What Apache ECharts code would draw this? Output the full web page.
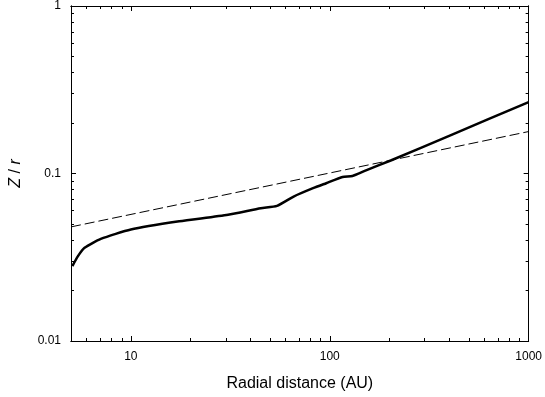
<!DOCTYPE html>
<html>
<head>
<meta charset="utf-8">
<script src="https://cdn.jsdelivr.net/npm/echarts@6/dist/echarts.min.js"></script>
<style>
  html, body { margin: 0; padding: 0; background: #fff; }
  #chart { width: 545px; height: 397px; }
</style>
</head>
<body>
<div id="chart"></div>
<script>
// solid curve: radial distance (AU) vs Z/r
const radius = [5.08, 5.42, 5.85, 7.06, 10, 17.5, 30.8, 45, 54.3, 65.8, 82.4, 96, 116, 130, 151, 204, 404, 1000];
const ratio = [0.028, 0.0321, 0.036, 0.0407, 0.0463, 0.0518, 0.0567, 0.0621, 0.0641, 0.0728, 0.0817, 0.0875, 0.0952, 0.0967, 0.104, 0.120, 0.169, 0.267];

// dashed reference line
const refRadius = [5, 1000];
const refRatio = [0.048, 0.178];

const xMajor = [10, 100, 1000];
const xMinor = [6, 7, 8, 9, 20, 30, 40, 50, 60, 70, 80, 90, 200, 300, 400, 500, 600, 700, 800, 900];
const yMajor = [0.01, 0.1, 1];
const yMinor = [0.02, 0.03, 0.04, 0.05, 0.06, 0.07, 0.08, 0.09, 0.2, 0.3, 0.4, 0.5, 0.6, 0.7, 0.8, 0.9];

const font = 'Liberation Sans, Arial, Helvetica, sans-serif';
const black = '#000';

function xAxisFor(position, ticks, len, labels) {
  return {
    type: 'log', min: 5, max: 1000, position: position,
    axisLine: { show: true, lineStyle: { color: black, width: 1 } },
    axisTick: { show: true, inside: true, length: len, customValues: ticks, lineStyle: { color: black } },
    axisLabel: labels
      ? { show: true, customValues: xMajor, color: black, fontSize: 12, fontFamily: font, margin: 10,
          formatter: v => String(v) }
      : { show: false },
    splitLine: { show: false }
  };
}
function yAxisFor(position, ticks, len, labels) {
  return {
    type: 'log', min: 0.01, max: 1, position: position,
    axisLine: { show: true, lineStyle: { color: black, width: 1 } },
    axisTick: { show: true, inside: true, length: len, customValues: ticks, lineStyle: { color: black } },
    axisLabel: labels
      ? { show: true, customValues: yMajor, color: black, fontSize: 12, fontFamily: font, margin: 10,
          formatter: v => String(v) }
      : { show: false },
    splitLine: { show: false }
  };
}

const xAxes = [
  xAxisFor('bottom', xMajor, 5, true),
  xAxisFor('bottom', xMinor, 3, false),
  xAxisFor('top', xMajor, 5, false),
  xAxisFor('top', xMinor, 3, false)
];
xAxes[0].name = 'Radial distance (AU)';
xAxes[0].nameLocation = 'middle';
xAxes[0].nameGap = 35;
xAxes[0].nameTextStyle = { color: black, fontSize: 16, fontFamily: font };

const yAxes = [
  yAxisFor('left', yMajor, 5, true),
  yAxisFor('left', yMinor, 3, false),
  yAxisFor('right', yMajor, 5, false),
  yAxisFor('right', yMinor, 3, false)
];
yAxes[0].name = '{i|Z} / {i|r}';
yAxes[0].nameLocation = 'middle';
yAxes[0].nameGap = 47;
yAxes[0].nameTextStyle = {
  color: black, fontSize: 16, fontFamily: font,
  rich: { i: { fontStyle: 'italic', fontSize: 16, fontFamily: font, color: black } }
};

const chart = echarts.init(document.getElementById('chart'));
chart.setOption({
  animation: false,
  backgroundColor: '#fff',
  grid: { left: 62, right: 15, top: 5, bottom: 55, containLabel: false },
  xAxis: xAxes,
  yAxis: yAxes,
  series: [
    {
      name: 'Z/r',
      type: 'line',
      data: radius.map((r, i) => [r, ratio[i]]),
      showSymbol: false,
      smooth: 0.2,
      lineStyle: { color: black, width: 2.5 }
    },
    {
      name: 'reference',
      type: 'line',
      data: refRadius.map((r, i) => [r, refRatio[i]]),
      showSymbol: false,
      lineStyle: { color: black, width: 1, type: [10, 4] }
    }
  ]
});
</script>
</body>
</html>
